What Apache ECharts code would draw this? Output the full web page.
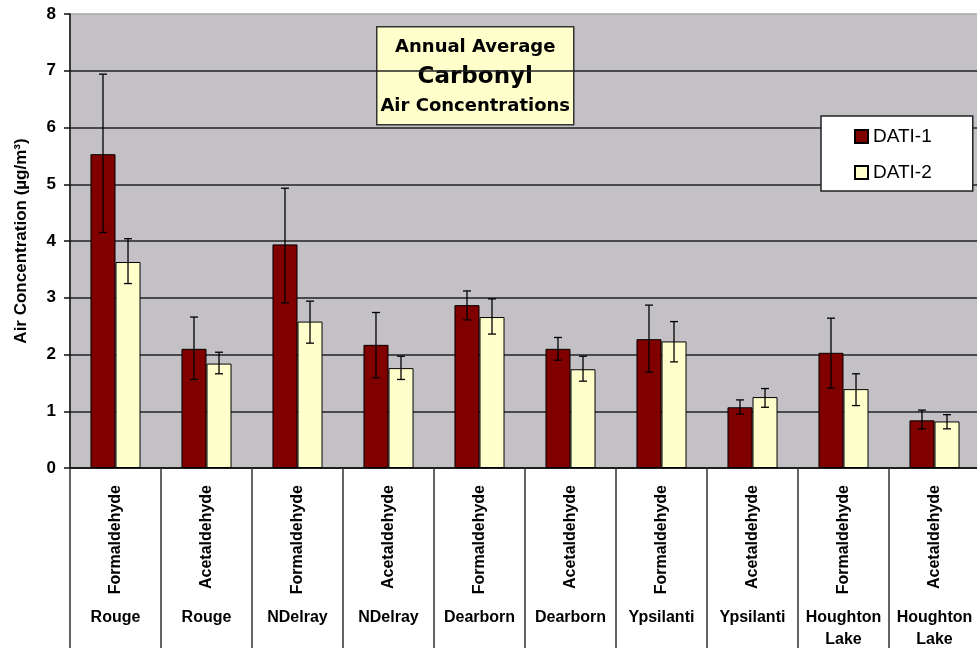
<!DOCTYPE html>
<html>
<head>
<meta charset="utf-8">
<script src="https://cdn.jsdelivr.net/npm/echarts@6/dist/echarts.min.js"></script>
<style>
  html, body { margin: 0; padding: 0; background: #fff; }
  #chart { width: 977px; height: 648px; }
</style>
</head>
<body>
<div id="chart"></div>
<script>
// compounds / sites per category
const compounds = ['Formaldehyde', 'Acetaldehyde', 'Formaldehyde', 'Acetaldehyde', 'Formaldehyde',
  'Acetaldehyde', 'Formaldehyde', 'Acetaldehyde', 'Formaldehyde', 'Acetaldehyde']
const sites = ['Rouge', 'Rouge', 'NDelray', 'NDelray', 'Dearborn',
  'Dearborn', 'Ypsilanti', 'Ypsilanti', 'Houghton\nLake', 'Houghton\nLake']

const yTicks = [0, 1, 2, 3, 4, 5, 6, 7, 8]

const dati1 = [5.53, 2.10, 3.94, 2.17, 2.87, 2.10, 2.27, 1.07, 2.03, 0.84]
const dati1Low = [4.15, 1.56, 2.91, 1.59, 2.61, 1.90, 1.69, 0.95, 1.41, 0.69]
const dati1High = [6.94, 2.66, 4.93, 2.74, 3.12, 2.30, 2.87, 1.20, 2.64, 1.02]

const dati2 = [3.63, 1.84, 2.58, 1.76, 2.66, 1.74, 2.23, 1.25, 1.39, 0.82]
const dati2Low = [3.25, 1.66, 2.20, 1.56, 2.36, 1.53, 1.87, 1.07, 1.10, 0.69]
const dati2High = [4.04, 2.04, 2.94, 1.97, 2.98, 1.97, 2.58, 1.40, 1.66, 0.94]

const idx = compounds.map((c, i) => i)

// 柱宽占类目宽度的比例
const BAR_FRAC = 0.275

function errorSeries(name, low, high, sign) {
  return {
    type: 'custom',
    name: name + ' err',
    xAxisIndex: 0,
    yAxisIndex: 0,
    z: 10,
    silent: true,
    encode: { x: 0, y: [1, 2] },
    data: idx.map(i => [i, low[i], high[i]]),
    renderItem(params, api) {
      const band = api.size([1, 0])[0]
      const hi = api.coord([api.value(0), api.value(2)])
      const lo = api.coord([api.value(0), api.value(1)])
      const x = hi[0] + sign * band * BAR_FRAC / 2
      const cap = 4
      const st = { stroke: '#000', lineWidth: 1.3 }
      return {
        type: 'group',
        children: [
          { type: 'line', shape: { x1: x, y1: hi[1], x2: x, y2: lo[1] }, style: st },
          { type: 'line', shape: { x1: x - cap, y1: hi[1], x2: x + cap, y2: hi[1] }, style: st },
          { type: 'line', shape: { x1: x - cap, y1: lo[1], x2: x + cap, y2: lo[1] }, style: st }
        ]
      }
    }
  }
}

const chart = echarts.init(document.getElementById('chart'))

chart.setOption({
  backgroundColor: '#fff',
  animation: false,
  textStyle: { fontFamily: 'Liberation Sans, Arial, sans-serif' },
  grid: {
    left: 70,
    right: -3,
    top: 14,
    bottom: 180,
    outerBoundsMode: 'none',
    show: true,
    backgroundColor: '#C3C1C5',
    borderColor: '#A9A9AC',
    borderWidth: 1.5
  },
  legend: {
    orient: 'vertical',
    left: 821,
    top: 116,
    icon: 'rect',
    backgroundColor: '#fff',
    borderColor: '#222',
    borderWidth: 1.5,
    borderRadius: 0,
    padding: [11, 41, 9, 33],
    itemGap: 17,
    itemWidth: 13,
    itemHeight: 13,
    textStyle: { fontSize: 19, color: '#000', fontFamily: 'Liberation Sans, Arial, sans-serif' },
    data: ['DATI-1', 'DATI-2']
  },
  xAxis: [
    {
      type: 'category',
      data: compounds,
      axisLine: { show: true, lineStyle: { color: '#111', width: 1.5 } },
      axisTick: { show: true, length: 185, interval: 0, lineStyle: { color: '#333', width: 1.5 } },
      axisLabel: {
        interval: 0,
        rotate: 90,
        margin: 17,
        fontSize: 16,
        fontWeight: 'bold',
        color: '#000'
      },
      splitLine: { show: false }
    },
    {
      type: 'category',
      position: 'bottom',
      data: sites,
      axisLine: { show: false },
      axisTick: { show: false },
      axisLabel: {
        interval: 0,
        margin: 139,
        fontSize: 16,
        fontWeight: 'bold',
        lineHeight: 22,
        color: '#000'
      }
    }
  ],
  yAxis: {
    type: 'value',
    min: yTicks[0],
    max: yTicks[yTicks.length - 1],
    interval: 1,
    name: 'Air Concentration (µg/m³)',
    nameLocation: 'middle',
    nameGap: 40,
    nameTextStyle: { fontSize: 17, fontWeight: 'bold', color: '#000' },
    axisLine: { show: true, lineStyle: { color: '#111', width: 1.5 } },
    axisTick: { show: true, length: 6, lineStyle: { color: '#111', width: 1.5 } },
    axisLabel: { fontSize: 17, fontWeight: 'bold', color: '#000', margin: 14 },
    splitLine: { show: true, showMaxLine: false, lineStyle: { color: '#222', width: 1.5 } }
  },
  graphic: [
    {
      type: 'group',
      left: 376,
      top: 26,
      z: 100,
      children: [
        {
          type: 'rect',
          shape: { x: 0, y: 0, width: 197, height: 98 },
          style: { fill: '#FFFFCC', stroke: '#333', lineWidth: 1.5 }
        },
        {
          type: 'text',
          x: 98.5, y: 20.5,
          style: { text: 'Annual Average', textAlign: 'center', textVerticalAlign: 'middle',
            font: 'bold 18px "DejaVu Sans"', fill: '#000' }
        },
        {
          type: 'text',
          x: 98.5, y: 50,
          style: { text: 'Carbonyl', textAlign: 'center', textVerticalAlign: 'middle',
            font: 'bold 23px "DejaVu Sans"', fill: '#000' }
        },
        {
          type: 'text',
          x: 98.5, y: 79.5,
          style: { text: 'Air Concentrations', textAlign: 'center', textVerticalAlign: 'middle',
            font: 'bold 18px "DejaVu Sans"', fill: '#000' }
        }
      ]
    }
  ],
  series: [
    {
      name: 'DATI-1',
      type: 'bar',
      xAxisIndex: 0,
      barGap: '0%',
      barCategoryGap: '45%',
      itemStyle: { color: '#800000', borderColor: '#000', borderWidth: 1 },
      data: dati1
    },
    {
      name: 'DATI-2',
      type: 'bar',
      xAxisIndex: 0,
      barGap: '0%',
      barCategoryGap: '45%',
      itemStyle: { color: '#FFFFCC', borderColor: '#000', borderWidth: 1 },
      data: dati2
    },
    errorSeries('DATI-1', dati1Low, dati1High, -1),
    errorSeries('DATI-2', dati2Low, dati2High, 1)
  ]
})
</script>
</body>
</html>
